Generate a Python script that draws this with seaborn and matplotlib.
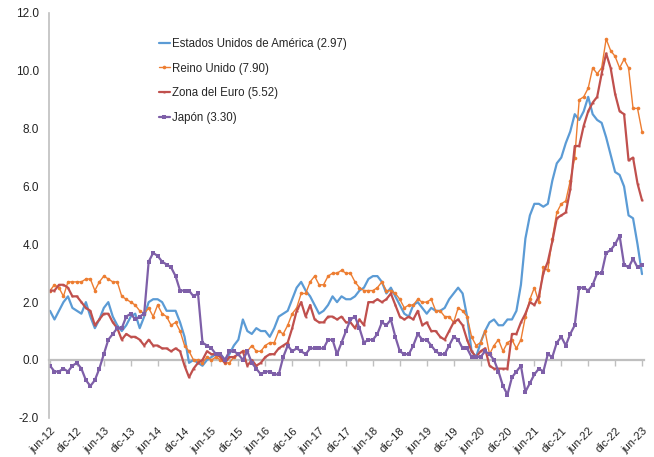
import numpy as np
import pandas as pd
import matplotlib
matplotlib.use("Agg")
import matplotlib.pyplot as plt
import seaborn as sns

# Monthly YoY inflation, jun-12 .. jun-23
MESES = ["ene", "feb", "mar", "abr", "may", "jun", "jul", "ago", "sep", "oct", "nov", "dic"]

eeuu = [
    1.7, 1.4, 1.7, 2.0, 2.2, 1.8, 1.7,
    1.6, 2.0, 1.5, 1.1, 1.4, 1.8, 2.0, 1.5, 1.2, 1.0, 1.2, 1.5,
    1.6, 1.1, 1.5, 2.0, 2.1, 2.1, 2.0, 1.7, 1.7, 1.7, 1.3, 0.8,
    -0.1, 0.0, -0.1, -0.2, 0.0, 0.1, 0.2, 0.2, 0.0, 0.2, 0.5, 0.7,
    1.4, 1.0, 0.9, 1.1, 1.0, 1.0, 0.8, 1.1, 1.5, 1.6, 1.7, 2.1,
    2.5, 2.7, 2.4, 2.2, 1.9, 1.6, 1.7, 1.9, 2.2, 2.0, 2.2, 2.1,
    2.1, 2.2, 2.4, 2.5, 2.8, 2.9, 2.9, 2.7, 2.3, 2.5, 2.2, 1.9,
    1.6, 1.5, 1.9, 2.0, 1.8, 1.6, 1.8, 1.7, 1.7, 1.8, 2.1, 2.3,
    2.5, 2.3, 1.5, 0.3, 0.1, 0.6, 1.0, 1.3, 1.4, 1.2, 1.2, 1.4,
    1.4, 1.7, 2.6, 4.2, 5.0, 5.4, 5.4, 5.3, 5.4, 6.2, 6.8, 7.0,
    7.5, 7.9, 8.5, 8.3, 8.6, 9.1, 8.5, 8.3, 8.2, 7.7, 7.1, 6.5,
    6.4, 6.0, 5.0, 4.9, 4.0, 2.97,
]
reino_unido = [
    2.4, 2.6, 2.5, 2.2, 2.7, 2.7, 2.7,
    2.7, 2.8, 2.8, 2.4, 2.7, 2.9, 2.8, 2.7, 2.7, 2.2, 2.1, 2.0,
    1.9, 1.7, 1.6, 1.8, 1.5, 1.9, 1.6, 1.5, 1.2, 1.3, 1.0, 0.5,
    0.3, 0.0, 0.0, -0.1, 0.1, 0.0, 0.1, 0.0, -0.1, -0.1, 0.1, 0.2,
    0.3, 0.3, 0.5, 0.3, 0.3, 0.5, 0.6, 0.6, 1.0, 0.9, 1.2, 1.6,
    1.8, 2.3, 2.3, 2.7, 2.9, 2.6, 2.6, 2.9, 3.0, 3.0, 3.1, 3.0,
    3.0, 2.7, 2.5, 2.4, 2.4, 2.4, 2.5, 2.7, 2.4, 2.4, 2.3, 2.1,
    1.8, 1.9, 1.9, 2.1, 2.0, 2.0, 2.1, 1.7, 1.7, 1.5, 1.5, 1.3,
    1.8, 1.7, 1.5, 0.8, 0.5, 0.6, 1.0, 0.2, 0.5, 0.7, 0.3, 0.6,
    0.7, 0.4, 0.7, 1.5, 2.1, 2.5, 2.0, 3.2, 3.1, 4.2, 5.1, 5.4,
    5.5, 6.2, 7.0, 9.0, 9.1, 9.4, 10.1, 9.9, 10.1, 11.1, 10.7, 10.5,
    10.1, 10.4, 10.1, 8.7, 8.7, 7.90,
]
zona_euro = [
    2.4, 2.4, 2.6, 2.6, 2.5, 2.2, 2.2,
    2.0, 1.8, 1.7, 1.2, 1.4, 1.6, 1.6, 1.3, 1.1, 0.7, 0.9, 0.8,
    0.8, 0.7, 0.5, 0.7, 0.5, 0.5, 0.4, 0.4, 0.3, 0.4, 0.3, -0.2,
    -0.6, -0.3, -0.1, 0.0, 0.3, 0.2, 0.2, 0.1, -0.1, 0.1, 0.1, 0.2,
    0.3, -0.2, 0.0, -0.2, -0.1, 0.1, 0.2, 0.2, 0.4, 0.5, 0.6, 1.1,
    1.7, 2.0, 1.5, 1.9, 1.4, 1.3, 1.3, 1.5, 1.5, 1.4, 1.5, 1.3,
    1.3, 1.1, 1.4, 1.2, 2.0, 2.0, 2.1, 2.0, 2.1, 2.3, 1.9, 1.5,
    1.4, 1.5, 1.4, 1.7, 1.2, 1.3, 1.0, 1.0, 0.8, 0.7, 1.0, 1.3,
    1.4, 1.2, 0.7, 0.3, 0.1, 0.3, 0.4, -0.2, -0.3, -0.3, -0.3, -0.3,
    0.9, 0.9, 1.3, 1.6, 2.0, 1.9, 2.2, 3.0, 3.4, 4.1, 4.9, 5.0,
    5.1, 5.9, 7.4, 7.4, 8.1, 8.6, 8.9, 9.1, 9.9, 10.6, 10.1, 9.2,
    8.6, 8.5, 6.9, 7.0, 6.1, 5.52,
]
japon = [
    -0.2, -0.4, -0.4, -0.3, -0.4, -0.2, -0.1,
    -0.3, -0.7, -0.9, -0.7, -0.3, 0.2, 0.7, 0.9, 1.1, 1.1, 1.5, 1.6,
    1.4, 1.5, 1.6, 3.4, 3.7, 3.6, 3.4, 3.3, 3.2, 2.9, 2.4, 2.4,
    2.4, 2.2, 2.3, 0.6, 0.5, 0.4, 0.2, 0.2, 0.0, 0.3, 0.3, 0.2,
    0.0, 0.3, -0.1, -0.3, -0.5, -0.4, -0.4, -0.5, -0.5, 0.1, 0.5, 0.3,
    0.4, 0.3, 0.2, 0.4, 0.4, 0.4, 0.4, 0.7, 0.7, 0.2, 0.6, 1.0,
    1.4, 1.5, 1.1, 0.6, 0.7, 0.7, 0.9, 1.3, 1.2, 1.4, 0.8, 0.3,
    0.2, 0.2, 0.5, 0.9, 0.7, 0.7, 0.5, 0.3, 0.2, 0.2, 0.5, 0.8,
    0.7, 0.4, 0.4, 0.1, 0.1, 0.1, 0.3, 0.2, 0.0, -0.4, -0.9, -1.2,
    -0.6, -0.4, -0.2, -1.1, -0.8, -0.5, -0.3, -0.4, 0.2, 0.1, 0.6, 0.8,
    0.5, 0.9, 1.2, 2.5, 2.5, 2.4, 2.6, 3.0, 3.0, 3.7, 3.8, 4.0,
    4.3, 3.3, 3.2, 3.5, 3.2, 3.30,
]

etiquetas = {
    "eeuu": "Estados Unidos de América (2.97)",
    "ru": "Reino Unido (7.90)",
    "ze": "Zona del Euro (5.52)",
    "jp": "Japón (3.30)",
}

# month labels jun-12 .. jun-23
n = len(eeuu)
meses = []
for i in range(n):
    m = (5 + i) % 12
    y = 12 + (5 + i) // 12
    meses.append(f"{MESES[m]}-{y:02d}")

df = pd.DataFrame({
    "t": np.arange(n),
    "eeuu": eeuu,
    "ru": reino_unido,
    "ze": zona_euro,
    "jp": japon,
})

sns.set_theme(style="white")
plt.rcParams["font.family"] = ["Liberation Sans", "DejaVu Sans"]

fig = plt.figure(figsize=(6.54, 4.57), dpi=100)
ax = fig.add_axes([0.0744, 0.0858, 0.9107, 0.8858])

estilos = {
    "eeuu": dict(color="#5B9BD5", lw=1.6, marker=None),
    "ru": dict(color="#ED7D31", lw=1.0, marker="o", markersize=2.6),
    "ze": dict(color="#C0504D", lw=1.6, marker="s", markersize=1.4),
    "jp": dict(color="#7E5FA8", lw=1.6, marker="s", markersize=2.6),
}
for key in ["eeuu", "ru", "ze", "jp"]:
    st = estilos[key]
    kw = dict(color=st["color"], linewidth=st["lw"], label=etiquetas[key])
    if st["marker"]:
        kw.update(marker=st["marker"], markersize=st["markersize"],
                  markeredgewidth=0, markerfacecolor=st["color"])
    sns.lineplot(data=df, x="t", y=key, ax=ax, **kw)

ax.set_xlim(-0.3, n - 0.5)
ax.set_ylim(-2, 12)
ax.set_yticks(np.arange(-2, 12.1, 2))
ax.set_yticklabels([f"{v:.1f}" for v in np.arange(-2, 12.1, 2)], fontsize=8.5, color="#222222")
ax.set_xlabel("")
ax.set_ylabel("")

tick_pos = np.arange(0, n, 6)
ax.set_xticks(tick_pos)
ax.set_xticklabels([meses[i] for i in tick_pos], rotation=45, ha="right",
                   rotation_mode="anchor", fontsize=8, color="#222222")
ax.tick_params(axis="x", length=0, pad=6)
ax.tick_params(axis="y", length=4, width=1, color="#BFBFBF", direction="out", pad=3)

for s in ["top", "right", "bottom"]:
    ax.spines[s].set_visible(False)
ax.spines["left"].set_color("#BFBFBF")
ax.spines["left"].set_linewidth(1.2)

# zero line with its own tick marks
sec = ax.secondary_xaxis(2 / 14)
sec.set_xticks(tick_pos)
sec.set_xticklabels([])
sec.tick_params(axis="x", length=4, width=1, color="#BFBFBF", direction="out")
sec.spines["bottom"].set_color("#BFBFBF")
sec.spines["bottom"].set_linewidth(1.6)

ax.legend(loc="upper left", bbox_to_anchor=(154 / 654, 1 - 33 / 457),
          bbox_transform=fig.transFigure, frameon=False, fontsize=8.3,
          handlelength=1.0, handletextpad=0.2, labelspacing=1.12,
          borderaxespad=0)

fig.savefig("out.png", dpi=100)
